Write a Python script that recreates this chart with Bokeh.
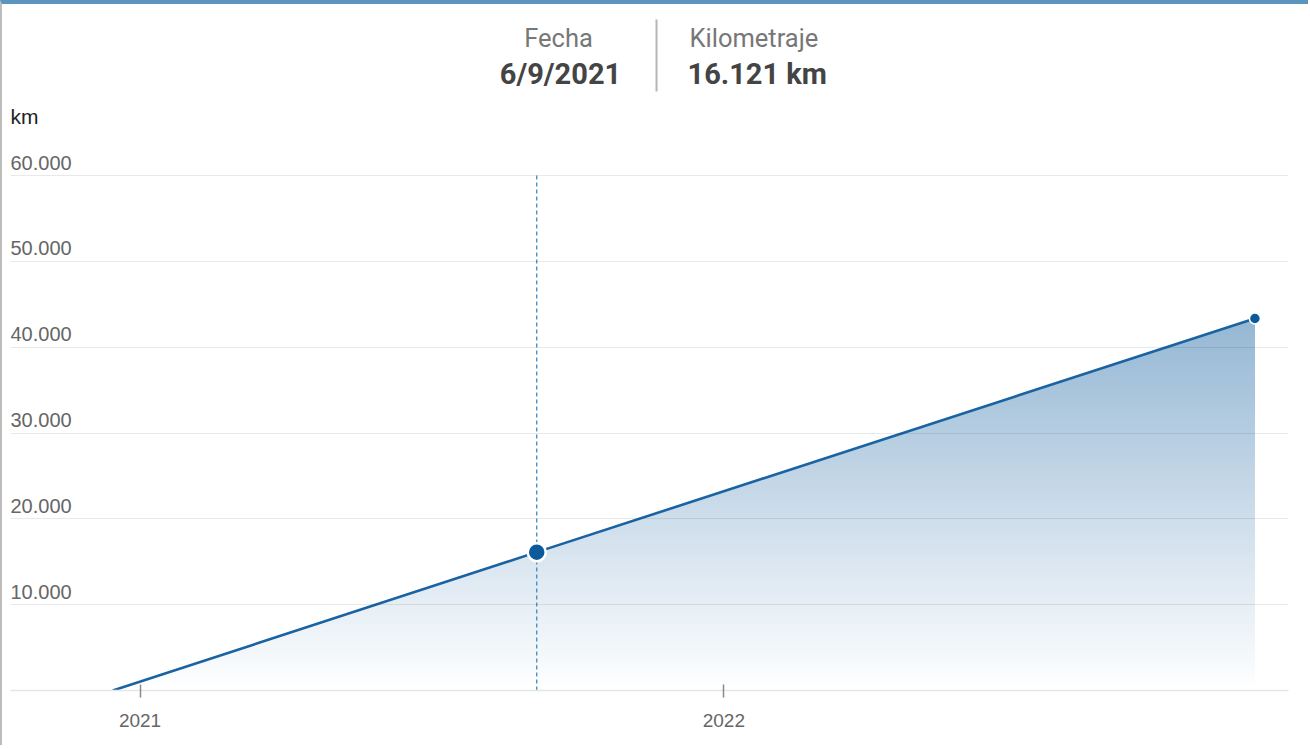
import numpy as np
import pandas as pd
from bokeh.plotting import figure
from bokeh.models import Label, FixedTicker, DatetimeTickFormatter, Range1d, BoxAnnotation
from bokeh.embed import file_html
from bokeh.resources import INLINE

# ---------------- data ----------------
dates = ["2020-12-15", "2021-09-06", "2022-11-29"]
km = [0, 16121, 43340]
hover_date = "2021-09-06"
hover_km = 16121
y_ticks = [10000, 20000, 30000, 40000, 50000, 60000]
y_tick_labels = ["10.000", "20.000", "30.000", "40.000", "50.000", "60.000"]
x_ticks = ["2021-01-01", "2022-01-01"]
x_tick_labels = ["2021", "2022"]
header_titles = ["Fecha", "Kilometraje"]
header_values = ["6/9/2021", "16.121 km"]
unit_label = "km"
x_view = ["2020-10-12", "2022-12-20"]

def ms(d):
    return pd.Timestamp(d).value / 1e6

xs = np.array([ms(d) for d in dates])
ys = np.array(km, dtype=float)

W, H = 1308, 745
p = figure(width=W, height=H, output_backend="svg", toolbar_location=None,
           x_axis_type="datetime",
           x_range=Range1d(ms(x_view[0]), ms(x_view[1])),
           y_range=Range1d(0, 60000 * 686 / 515),
           min_border_left=8, min_border_right=22, min_border_top=0, min_border_bottom=59,
           styles={"border-top": "4px solid #5b95bd", "border-left": "2px solid #bdbdbd"})
p.outline_line_color = None
p.background_fill_color = "white"
p.border_fill_color = "white"
p.yaxis.visible = False
p.xgrid.visible = False
p.ygrid.ticker = FixedTicker(ticks=y_ticks)
p.ygrid.grid_line_color = "#000000"
p.ygrid.grid_line_alpha = 0.085
p.ygrid.grid_line_width = 1
p.ygrid.level = "glyph"

xa = p.xaxis[0]
xa.ticker = FixedTicker(ticks=[ms(d) for d in x_ticks])
xa.formatter = DatetimeTickFormatter(years="%Y", months="%Y", days="%Y", hours="%Y")
xa.axis_line_color = "#e6e6e6"
xa.axis_line_width = 1.5
xa.major_tick_in = 6
xa.major_tick_out = 7
xa.major_tick_line_color = "#8a8a8a"
xa.major_tick_line_width = 1.5
xa.minor_tick_line_color = None
xa.major_label_text_font_size = "19px"
xa.major_label_text_color = "#666666"
xa.major_label_text_font = "Liberation Sans"
xa.major_label_standoff = 16

# gradient area: opaque bands stacked bottom-up
base = np.array([42, 111, 168])
xg = np.linspace(xs[0], xs[-1], 800)
yg = np.interp(xg, xs, ys)
ytop = ys.max()
N = 90
for k in range(N):
    lo = ytop * k / N
    A = 0.5 * (k + 0.5) / N
    c = np.round(255 * (1 - A) + base * A).astype(int)
    col = "#%02x%02x%02x" % tuple(c)
    r = p.varea(x=xg, y1=np.minimum(yg, lo), y2=yg, fill_color=col, fill_alpha=1)
    r.level = "underlay"

p.line(xs, ys, line_color="#1a63a3", line_width=2.6)

# hover guide
p.segment(x0=[ms(hover_date)], y0=[0], x1=[ms(hover_date)], y1=[y_ticks[-1]],
          line_color="#4289c0", line_width=1.3, line_dash="4 3")
p.scatter([ms(hover_date)], [hover_km], size=18, fill_color="#0d5a9a",
          line_color="white", line_width=2.5)
p.scatter([xs[-1]], [ys[-1]], size=11, fill_color="#0d5a9a",
          line_color="white", line_width=1.5)

# y tick labels above grid lines
for v, t in zip(y_ticks, y_tick_labels):
    p.add_layout(Label(x=ms(x_view[0]), y=v, text=t, y_offset=6,
                       text_baseline="bottom", text_align="left",
                       text_font_size="20px", text_color="#666666",
                       text_font="Liberation Sans"))

# header (screen units relative to frame)
def sx(px):
    return px - 10
def sy(py):
    return 690 - py

p.add_layout(Label(x=sx(10), y=sy(116), x_units="screen", y_units="screen", text=unit_label,
                   text_baseline="middle", text_align="left", text_font_size="21px",
                   text_color="#222222", text_font="Liberation Sans"))
p.add_layout(Label(x=sx(558), y=sy(37), x_units="screen", y_units="screen", text=header_titles[0],
                   text_baseline="middle", text_align="center", text_font_size="25.5px",
                   text_color="#777777", text_font="Roboto"))
p.add_layout(Label(x=sx(560), y=sy(73), x_units="screen", y_units="screen", text=header_values[0],
                   text_baseline="middle", text_align="center", text_font_size="29px",
                   text_font_style="bold", text_color="#444444", text_font="Roboto"))
p.add_layout(Label(x=sx(689), y=sy(37), x_units="screen", y_units="screen", text=header_titles[1],
                   text_baseline="middle", text_align="left", text_font_size="25.5px",
                   text_color="#777777", text_font="Roboto"))
p.add_layout(Label(x=sx(687), y=sy(73), x_units="screen", y_units="screen", text=header_values[1],
                   text_baseline="middle", text_align="left", text_font_size="29px",
                   text_font_style="bold", text_color="#444444", text_font="Roboto"))
p.add_layout(BoxAnnotation(left=sx(655), right=sx(657), bottom=sy(91), top=sy(19),
                           left_units="screen", right_units="screen",
                           bottom_units="screen", top_units="screen",
                           fill_color="#b5b5b5", fill_alpha=1, line_color=None))

open("out.html", "w").write(file_html(p, INLINE))
